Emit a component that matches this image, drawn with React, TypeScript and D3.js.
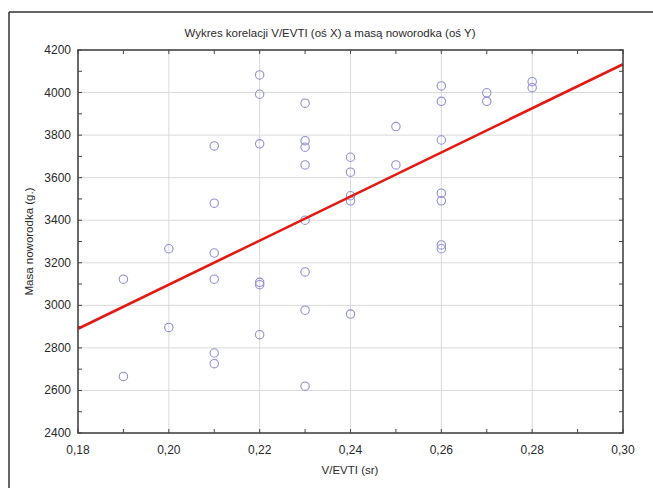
import React from 'react';
import * as d3 from 'd3';

// scatter points, one list per x value
const xValues = [0.19, 0.2, 0.21, 0.22, 0.23, 0.24, 0.25, 0.26, 0.27, 0.28];
const massByX = [
  [3123, 2666],
  [3266, 2896],
  [3749, 3480, 3246, 3123, 2776, 2726],
  [4083, 3992, 3759, 3108, 3097, 2862],
  [3950, 3774, 3743, 3660, 3400, 3157, 2977, 2620],
  [3696, 3626, 3515, 3491, 2959],
  [3840, 3660],
  [4031, 3959, 3777, 3527, 3491, 3284, 3266],
  [3999, 3959],
  [4051, 4023],
];

// fitted line
const fitX = [0.18, 0.3];
const fitY = [2890, 4133];

const xTicks = [0.18, 0.2, 0.22, 0.24, 0.26, 0.28, 0.3];
const xMinor = d3.range(19, 30, 2).map(v => v / 100);
const yTicks = [2400, 2600, 2800, 3000, 3200, 3400, 3600, 3800, 4000, 4200];
const yMinor = d3.range(2500, 4200, 200);

const title = 'Wykres korelacji V/EVTI (oś X) a masą noworodka (oś Y)';
const xLabel = 'V/EVTI (sr)';
const yLabel = 'Masa noworodka (g.)';

const W = 653;
const H = 488;
const m = { left: 78, right: 623, top: 50, bottom: 433 };

const App = () => {
  const x = d3.scaleLinear().domain([0.18, 0.3]).range([m.left, m.right]);
  const y = d3.scaleLinear().domain([2400, 4200]).range([m.bottom, m.top]);
  const fmt = (v: number) => v.toFixed(2).replace('.', ',');

  const points = xValues.flatMap((xv, i) => massByX[i].map(mv => ({ x: xv, y: mv })));
  const line = d3.line<number>()
    .x((_, i) => x(fitX[i]))
    .y(d => y(d));

  const font = 'Liberation Sans, Arial, sans-serif';
  const tickLen = 4;

  return (
    <svg width={W} height={H} style={{ position: 'absolute', left: 0, top: 0, background: '#fff' }}>
      {/* outer frame */}
      <line x1={9} y1={12} x2={W} y2={12} stroke="#333" strokeWidth={1.5} />
      <line x1={9} y1={12} x2={9} y2={H} stroke="#333" strokeWidth={1.5} />

      <text x={330} y={37} textAnchor="middle" fontFamily={font} fontSize={11.5} fill="#2a2a2a">{title}</text>

      {/* grid */}
      {xTicks.slice(1, -1).map(t => (
        <line key={'gx' + t} x1={x(t)} x2={x(t)} y1={m.top} y2={m.bottom} stroke="#dadada" strokeWidth={1} />
      ))}
      {yTicks.slice(1, -1).map(t => (
        <line key={'gy' + t} x1={m.left} x2={m.right} y1={y(t)} y2={y(t)} stroke="#dadada" strokeWidth={1} />
      ))}

      {/* ticks, inside on all four sides */}
      {[...xTicks, ...xMinor].map(t => (
        <g key={'tx' + t} stroke="#444" strokeWidth={1}>
          <line x1={x(t)} x2={x(t)} y1={m.bottom} y2={m.bottom - tickLen} />
          <line x1={x(t)} x2={x(t)} y1={m.top} y2={m.top + tickLen} />
        </g>
      ))}
      {[...yTicks, ...yMinor].map(t => (
        <g key={'ty' + t} stroke="#444" strokeWidth={1}>
          <line x1={m.left} x2={m.left + tickLen} y1={y(t)} y2={y(t)} />
          <line x1={m.right} x2={m.right - tickLen} y1={y(t)} y2={y(t)} />
        </g>
      ))}

      {points.map((p, i) => (
        <circle key={i} cx={x(p.x)} cy={y(p.y)} r={4.2} fill="none" stroke="#8f8fd6" strokeWidth={1.1} />
      ))}

      <path d={line(fitY) || ''} fill="none" stroke="#e41a12" strokeWidth={2.6} />

      <rect x={m.left} y={m.top} width={m.right - m.left} height={m.bottom - m.top} fill="none" stroke="#444" strokeWidth={1.6} />

      {xTicks.map(t => (
        <text key={'lx' + t} x={x(t)} y={m.bottom + 21} textAnchor="middle" fontFamily={font} fontSize={12} fill="#2a2a2a">{fmt(t)}</text>
      ))}
      {yTicks.map(t => (
        <text key={'ly' + t} x={m.left - 7} y={y(t) + 4} textAnchor="end" fontFamily={font} fontSize={12} fill="#2a2a2a">{t}</text>
      ))}

      <text x={350} y={474} textAnchor="middle" fontFamily={font} fontSize={11.5} fill="#2a2a2a">{xLabel}</text>
      <text transform={`translate(33,${(m.top + m.bottom) / 2}) rotate(-90)`} textAnchor="middle" fontFamily={font} fontSize={11.5} fill="#2a2a2a">{yLabel}</text>
    </svg>
  );
};

export default App;
